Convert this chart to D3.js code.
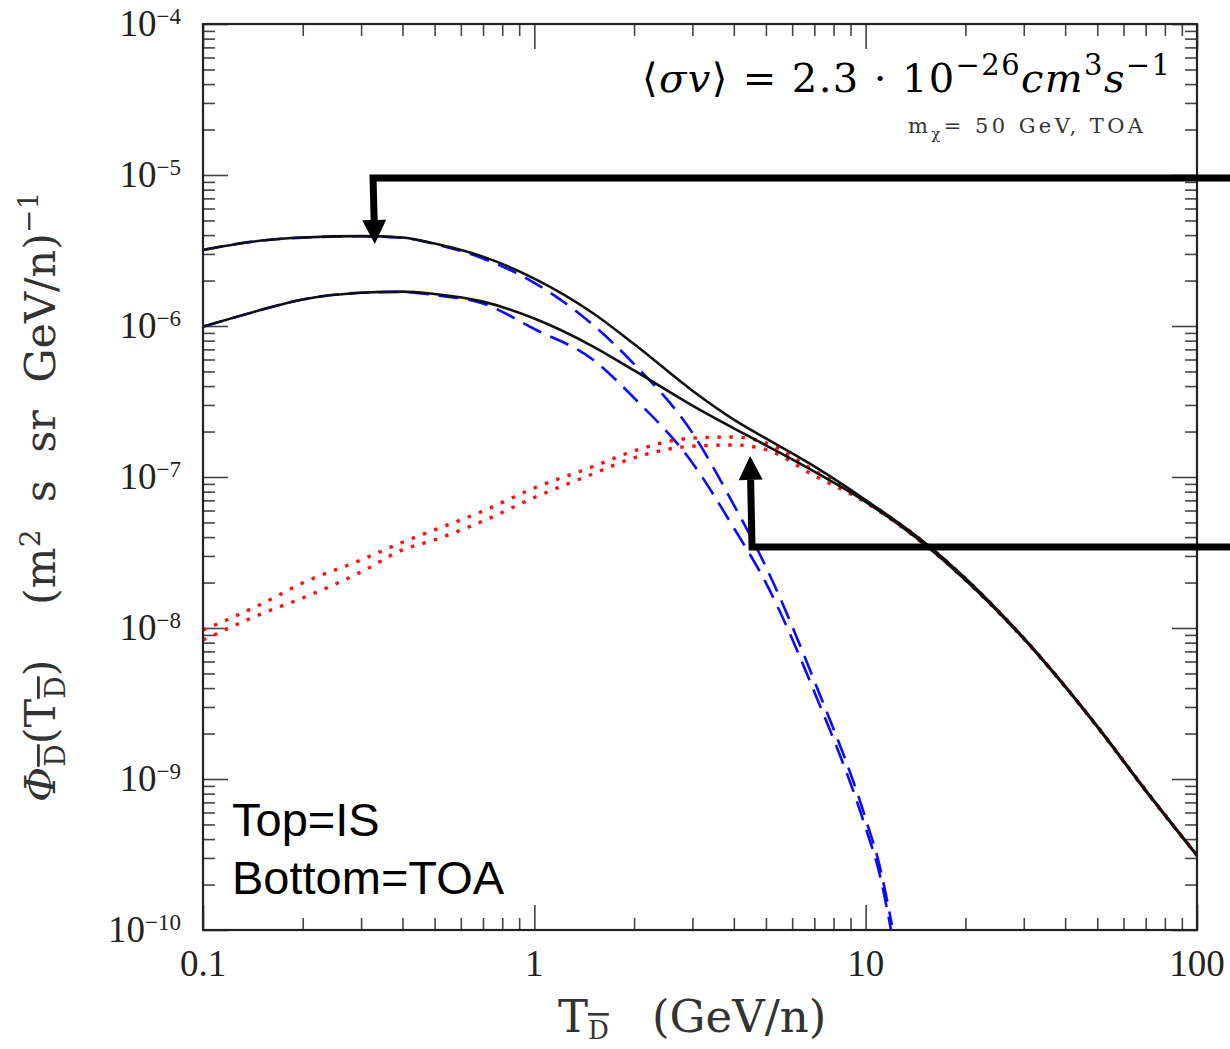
<!DOCTYPE html>
<html>
<head>
<meta charset="utf-8">
<script src="https://cdn.jsdelivr.net/npm/d3@7"></script>
<style>
body { margin: 0; background: #fff; }
svg text { white-space: pre; }
</style>
</head>
<body>
<div id="chart"></div>
<script>
// kinetic energy grid (GeV/n) for totals and secondaries
var T = [0.1, 0.15, 0.2, 0.3, 0.4, 0.5, 0.7, 1, 1.5, 2, 3, 4, 5, 7, 10, 15, 20, 30, 50, 70, 100];

// total flux, black solid
var totalIS = [3.19e-6, 3.68e-6, 3.86e-6, 3.94e-6, 3.86e-6, 3.52e-6, 2.88e-6, 2.06e-6, 1.22e-6, 7.60e-7,
    3.73e-7, 2.40e-7, 1.80e-7, 1.175e-7, 7.04e-8, 3.71e-8, 2.14e-8, 8.59e-9, 2.24e-9, 8.46e-10, 3.14e-10];
var totalTOA = [9.89e-7, 1.28e-6, 1.50e-6, 1.66e-6, 1.69e-6, 1.63e-6, 1.45e-6, 1.12e-6, 7.34e-7, 5.08e-7,
    2.97e-7, 2.10e-7, 1.62e-7, 1.086e-7, 6.85e-8, 3.60e-8, 2.08e-8, 8.46e-9, 2.21e-9, 8.34e-10, 3.10e-10];

// secondary flux, red dotted
var secIS = [9.70e-9, 1.44e-8, 1.99e-8, 2.82e-8, 3.70e-8, 4.46e-8, 5.95e-8, 8.46e-8, 1.17e-7, 1.49e-7,
    1.81e-7, 1.84e-7, 1.68e-7, 1.10e-7, 6.95e-8, 3.70e-8, 2.13e-8, 8.58e-9, 2.24e-9, 8.46e-10, 3.14e-10];
var secTOA = [8.32e-9, 1.24e-8, 1.58e-8, 2.35e-8, 3.29e-8, 3.83e-8, 5.11e-8, 7.31e-8, 1.047e-7, 1.34e-7,
    1.60e-7, 1.63e-7, 1.52e-7, 1.02e-7, 6.78e-8, 3.59e-8, 2.08e-8, 8.46e-9, 2.21e-9, 8.34e-10, 3.10e-10];

// dark matter signal, blue dashed
var Tdm = [0.1, 0.15, 0.2, 0.3, 0.4, 0.5, 0.7, 1, 1.5, 2, 3, 4, 5, 7, 10, 11, 12];
var dmIS = [3.19e-6, 3.68e-6, 3.85e-6, 3.93e-6, 3.84e-6, 3.49e-6, 2.80e-6, 1.93e-6, 1.02e-6, 5.60e-7,
    1.96e-7, 6.53e-8, 2.54e-8, 4.46e-9, 5.45e-10, 2.70e-10, 1.08e-10];
var dmTOA = [9.89e-7, 1.28e-6, 1.50e-6, 1.66e-6, 1.68e-6, 1.60e-6, 1.41e-6, 9.55e-7, 6.00e-7, 3.34e-7,
    1.24e-7, 4.60e-8, 1.99e-8, 3.77e-9, 4.74e-10, 2.38e-10, 9.3e-11];

var xTickValues = [0.1, 1, 10, 100];
var xTickLabels = ["0.1", "1", "10", "100"];
var yExponents = [-4, -5, -6, -7, -8, -9, -10];

// annotation arrows (T, flux): tail ... tip
var arrowTop = [[130, 9.55e-6], [0.326, 9.55e-6], [0.330, 3.49e-6]];
var arrowBottom = [[130, 3.44e-8], [4.54, 3.44e-8], [4.48, 1.38e-7]];

function init() {
    var width = 1230;
    var height = 1049;
    var serif = "'Liberation Serif', 'DejaVu Serif', serif";
    var wideSerif = "'DejaVu Serif', serif";

    var x = d3.scaleLog().domain([0.1, 100]).range([203, 1197]);
    var y = d3.scaleLog().domain([1e-10, 1e-4]).range([930, 24]);

    var svg = d3.select("#chart")
        .append("svg")
        .attr("width", width)
        .attr("height", height);

    svg.append("clipPath").attr("id", "plot")
        .append("rect")
        .attr("x", 203).attr("y", 24)
        .attr("width", 994).attr("height", 906);

    // ticks: minor and major, pointing inward on all four sides
    function isMajor(v) {
        return Math.abs(Math.log10(v) - Math.round(Math.log10(v))) < 1e-9;
    }
    var xMinor = x.ticks().filter(function (v) { return !isMajor(v); });
    var yMinor = y.ticks().filter(function (v) { return !isMajor(v); });
    var yMajor = yExponents.map(function (e) { return Math.pow(10, e); });

    function tickGroup(axis, tr) {
        svg.append("g")
            .attr("transform", tr)
            .call(axis.tickFormat(""))
            .call(function (g) { g.select(".domain").remove(); })
            .selectAll("line")
            .attr("stroke", "#444")
            .attr("stroke-width", 1.6);
    }
    tickGroup(d3.axisBottom(x).tickValues(xMinor).tickSize(-12), "translate(0,930)");
    tickGroup(d3.axisBottom(x).tickValues(xTickValues).tickSize(-25), "translate(0,930)");
    tickGroup(d3.axisTop(x).tickValues(xMinor).tickSize(-12), "translate(0,24)");
    tickGroup(d3.axisTop(x).tickValues(xTickValues).tickSize(-25), "translate(0,24)");
    tickGroup(d3.axisLeft(y).tickValues(yMinor).tickSize(-12), "translate(203,0)");
    tickGroup(d3.axisLeft(y).tickValues(yMajor).tickSize(-25), "translate(203,0)");
    tickGroup(d3.axisRight(y).tickValues(yMinor).tickSize(-12), "translate(1197,0)");
    tickGroup(d3.axisRight(y).tickValues(yMajor).tickSize(-25), "translate(1197,0)");

    // x tick labels
    svg.selectAll(".xlab")
        .data(xTickValues)
        .enter()
        .append("text")
        .attr("x", function (d) { return x(d); })
        .attr("y", 976)
        .attr("text-anchor", "middle")
        .attr("font-family", serif)
        .attr("font-size", 37)
        .attr("fill", "#222")
        .text(function (d, i) { return xTickLabels[i]; });

    // y tick labels 10^e
    var ylab = svg.selectAll(".ylab")
        .data(yExponents)
        .enter()
        .append("text")
        .attr("x", 181)
        .attr("y", function (d) { return y(Math.pow(10, d)) + 12; })
        .attr("text-anchor", "end")
        .attr("font-family", serif)
        .attr("fill", "#222");
    ylab.append("tspan").attr("font-size", 37).text("10");
    ylab.append("tspan").attr("font-size", 23).attr("dy", -12)
        .text(function (d) { return "\u2212" + (-d); });

    // curves
    var line = d3.line()
        .x(function (d) { return x(d[0]); })
        .y(function (d) { return y(d[1]); })
        .curve(d3.curveMonotoneX);

    var curves = svg.append("g").attr("clip-path", "url(#plot)");

    [dmIS, dmTOA].forEach(function (s) {
        curves.append("path")
            .attr("d", line(Tdm.map(function (t, i) { return [t, s[i]]; })))
            .attr("fill", "none")
            .attr("stroke", "#0a0aff")
            .attr("stroke-width", 2.6)
            .attr("stroke-dasharray", "20,10");
    });
    [secIS, secTOA].forEach(function (s) {
        curves.append("path")
            .attr("d", line(T.map(function (t, i) { return [t, s[i]]; })))
            .attr("fill", "none")
            .attr("stroke", "#ff1010")
            .attr("stroke-width", 3.4)
            .attr("stroke-dasharray", "3.5,8.5");
    });
    [totalIS, totalTOA].forEach(function (s) {
        curves.append("path")
            .attr("d", line(T.map(function (t, i) { return [t, s[i]]; })))
            .attr("fill", "none")
            .attr("stroke", "#111")
            .attr("stroke-width", 2.6);
    });

    // frame
    svg.append("rect")
        .attr("x", 203).attr("y", 24)
        .attr("width", 994).attr("height", 906)
        .attr("fill", "none")
        .attr("stroke", "#222")
        .attr("stroke-width", 2.2);

    // arrows
    function drawArrow(pts) {
        var p = pts.map(function (d) { return [x(d[0]), y(d[1])]; });
        var tip = p[p.length - 1], prev = p[p.length - 2];
        var dx = tip[0] - prev[0], dy = tip[1] - prev[1];
        var len = Math.sqrt(dx * dx + dy * dy);
        var ux = dx / len, uy = dy / len;
        var headLen = 24, headW = 12;
        var base = [tip[0] - ux * headLen, tip[1] - uy * headLen];
        var linePts = p.slice(0, -1).concat([base]);
        svg.append("path")
            .attr("d", d3.line()(linePts))
            .attr("fill", "none")
            .attr("stroke", "#000")
            .attr("stroke-width", 7)
            .attr("stroke-linejoin", "miter");
        svg.append("path")
            .attr("d", d3.line()([
                [base[0] - uy * headW, base[1] + ux * headW],
                tip,
                [base[0] + uy * headW, base[1] - ux * headW]
            ]) + "Z")
            .attr("fill", "#000");
    }
    drawArrow(arrowTop);
    drawArrow(arrowBottom);

    // formula
    var f = svg.append("text")
        .attr("x", 1170).attr("y", 92)
        .attr("text-anchor", "end")
        .attr("font-family", wideSerif)
        .attr("font-size", 40)
        .attr("fill", "#000")
        .attr("textLength", 528)
        .attr("lengthAdjust", "spacing");
    f.append("tspan").text("\u27E8");
    f.append("tspan").attr("font-style", "italic").text("\u03C3v");
    f.append("tspan").text("\u27E9 = 2.3 \u00B7 10");
    f.append("tspan").attr("font-size", 29).attr("dy", -17).text("\u221226");
    f.append("tspan").attr("font-style", "italic").attr("dy", 17).text("cm");
    f.append("tspan").attr("font-size", 29).attr("dy", -17).text("3");
    f.append("tspan").attr("font-style", "italic").attr("dy", 17).text("s");
    f.append("tspan").attr("font-size", 29).attr("dy", -17).text("\u22121");

    var m = svg.append("text")
        .attr("x", 1143).attr("y", 133)
        .attr("text-anchor", "end")
        .attr("font-family", wideSerif)
        .attr("font-size", 21)
        .attr("fill", "#333")
        .attr("textLength", 235)
        .attr("lengthAdjust", "spacing");
    m.append("tspan").text("m");
    m.append("tspan").attr("font-size", 15).attr("dy", 6).text("\u03C7");
    m.append("tspan").attr("dy", -6).text("= 50 GeV, TOA");

    // Top / Bottom note
    svg.append("text")
        .attr("x", 232).attr("y", 836)
        .attr("font-family", "'Liberation Sans', Arial, sans-serif")
        .attr("font-size", 47)
        .text("Top=IS");
    svg.append("text")
        .attr("x", 232).attr("y", 894)
        .attr("font-family", "'Liberation Sans', Arial, sans-serif")
        .attr("font-size", 47)
        .text("Bottom=TOA");

    // x axis title
    var xt = svg.append("text")
        .attr("x", 558).attr("y", 1032)
        .attr("font-family", wideSerif)
        .attr("font-size", 45)
        .attr("fill", "#333");
    xt.append("tspan").text("T");
    xt.append("tspan").attr("font-size", 26).attr("dy", 7)
        .style("text-decoration", "overline").text("D");
    xt.append("tspan").attr("x", 652).attr("dy", -7).text("(GeV/n)");

    // y axis title
    var yt = svg.append("text")
        .attr("transform", "translate(55,802) rotate(-90)")
        .attr("font-family", wideSerif)
        .attr("font-size", 43)
        .attr("fill", "#333");
    yt.append("tspan").attr("font-style", "italic").text("\u03A6");
    yt.append("tspan").attr("font-size", 28).attr("dy", 10)
        .style("text-decoration", "overline").text("D");
    yt.append("tspan").attr("dy", -10).text("(T");
    yt.append("tspan").attr("font-size", 28).attr("dy", 10)
        .style("text-decoration", "overline").text("D");
    yt.append("tspan").attr("dy", -10).text(")    (m");
    yt.append("tspan").attr("font-size", 28).attr("dy", -15).text("2");
    yt.append("tspan").attr("dy", 15).text("  s  sr  GeV/n)");
    yt.append("tspan").attr("font-size", 28).attr("dy", -17).text("\u22121");
}

window.onload = init;
</script>
</body>
</html>
